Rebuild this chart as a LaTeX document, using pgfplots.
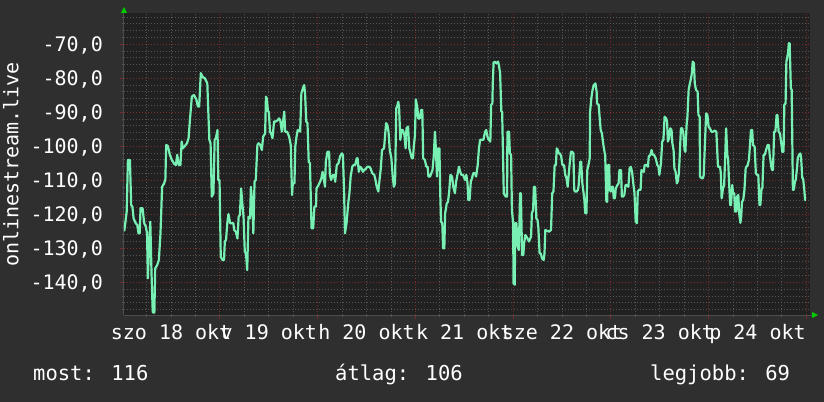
\documentclass[border=0pt]{standalone}
\usepackage{fontspec}
\setmainfont{DejaVu Sans Mono}
\usepackage{pgfplots}
\pgfplotsset{compat=1.18}
\usepackage{pgfplotstable}
\usetikzlibrary{arrows.meta}

\definecolor{canvas}{HTML}{2F2F2F}
\definecolor{plotbg}{HTML}{212121}
\definecolor{majorgrid}{HTML}{7A2C2C}
\definecolor{minorgrid}{HTML}{555555}
\definecolor{linecol}{HTML}{78F0B4}
\definecolor{arrowgreen}{HTML}{00CC00}
\definecolor{axiscol}{HTML}{4D4D4D}

\newcommand\axisfont{\fontsize{20bp}{24bp}\selectfont}
\newcommand\legfont{\fontsize{20.5bp}{24bp}\selectfont}

% hours since 18 Oct 00:00, signal level
\pgfplotstableread{
h v
0.5 -125.0
1.1 -119.2
1.4 -104.0
1.9 -104.0
2.2 -117.3
2.5 -117.7
2.8 -121.2
3.3 -122.6
3.7 -123.1
4.0 -125.6
4.3 -125.6
4.5 -118.2
5.0 -118.2
5.4 -122.6
5.8 -123.6
6.1 -125.6
6.3 -138.8
6.6 -129.5
6.9 -122.2
7.2 -137.4
7.5 -148.8
7.9 -148.9
8.1 -135.9
8.6 -134.9
9.0 -133.4
9.4 -125.6
9.8 -111.9
10.3 -110.9
10.6 -109.7
10.8 -99.6
11.2 -99.9
11.7 -102.5
12.2 -104.0
12.8 -105.2
13.2 -105.5
13.5 -102.5
13.9 -105.5
14.3 -105.5
14.6 -98.6
14.9 -100.6
15.4 -99.9
15.9 -99.1
16.3 -97.6
16.6 -92.7
17.1 -85.4
17.6 -84.9
18.2 -86.2
18.6 -88.3
18.9 -88.3
19.3 -78.5
19.8 -79.7
20.3 -80.0
20.9 -81.5
21.1 -88.3
21.4 -98.1
21.7 -99.1
22.0 -114.8
22.4 -113.8
22.7 -98.1
23.0 -97.6
23.4 -95.2
23.6 -109.9
23.9 -109.9
24.2 -132.5
24.6 -133.4
25.0 -133.4
25.2 -128.0
25.5 -127.5
25.8 -122.6
26.1 -119.9
26.5 -122.6
27.3 -122.6
27.5 -124.6
27.9 -125.1
28.3 -127.1
28.6 -120.7
28.9 -120.2
29.2 -112.4
29.5 -116.8
29.8 -120.7
30.1 -131.0
30.4 -131.5
30.7 -136.4
31.0 -120.7
31.4 -121.2
31.6 -111.9
32.0 -117.7
32.2 -125.6
32.5 -110.4
32.8 -109.9
33.2 -99.6
33.5 -99.1
33.9 -99.6
34.3 -101.1
34.6 -97.2
35.1 -96.2
35.3 -85.4
35.5 -85.9
35.8 -89.8
36.0 -89.8
36.3 -95.7
36.7 -96.7
36.9 -97.6
37.3 -92.7
37.7 -92.7
38.2 -92.3
38.5 -91.8
38.8 -92.3
39.2 -95.7
39.5 -92.7
39.8 -89.8
40.0 -95.7
40.5 -95.7
41.0 -97.2
41.4 -99.6
41.7 -114.3
41.9 -110.9
42.3 -110.9
42.5 -100.1
42.8 -97.2
43.1 -95.2
43.4 -95.2
43.7 -95.7
44.0 -84.4
44.5 -82.5
44.7 -82.0
44.9 -84.4
45.2 -92.7
45.5 -93.2
45.8 -104.5
46.1 -105.0
46.5 -124.1
46.9 -124.1
47.2 -117.7
47.6 -117.7
47.7 -112.4
48.2 -111.4
48.6 -110.4
48.9 -109.4
49.2 -107.5
49.5 -109.4
49.8 -111.9
50.0 -104.5
50.4 -101.6
50.8 -101.6
51.0 -108.4
51.3 -109.9
51.7 -108.4
52.0 -108.4
52.3 -110.4
52.7 -105.5
53.1 -105.0
53.5 -103.0
53.9 -102.1
54.2 -102.5
54.5 -113.8
54.7 -125.6
55.1 -122.6
55.5 -116.8
55.8 -113.8
56.1 -108.9
56.5 -106.0
56.8 -105.5
57.2 -105.5
57.6 -103.5
57.8 -103.5
58.1 -107.5
58.4 -106.0
58.8 -106.5
59.1 -107.5
59.4 -107.0
59.9 -106.5
60.2 -106.0
60.7 -106.0
61.0 -106.5
61.4 -107.9
61.9 -108.4
62.2 -109.9
62.5 -111.9
62.9 -113.3
63.1 -110.9
63.5 -106.5
63.8 -101.1
64.3 -100.6
64.5 -97.6
64.8 -93.2
65.1 -93.7
65.4 -95.7
65.7 -101.1
66.1 -103.5
66.4 -108.4
66.7 -111.9
67.0 -110.9
67.3 -88.8
67.5 -88.3
67.8 -86.9
68.0 -88.8
68.3 -98.1
68.6 -95.2
68.9 -95.2
69.3 -96.7
69.6 -100.6
69.8 -94.7
70.2 -94.2
70.5 -100.6
70.9 -102.5
71.1 -103.5
71.4 -103.5
71.6 -100.1
71.9 -96.7
72.1 -86.2
72.5 -88.8
72.7 -91.8
73.1 -91.8
73.4 -89.3
73.7 -89.3
73.9 -103.5
74.3 -104.0
74.7 -106.0
75.0 -106.0
75.2 -108.9
75.6 -108.9
75.9 -107.9
76.2 -107.0
76.5 -103.0
76.8 -95.7
77.0 -100.1
77.3 -108.9
77.5 -100.6
77.9 -100.6
78.1 -113.8
78.3 -122.2
78.6 -122.6
78.8 -130.0
79.1 -130.0
79.3 -119.7
79.7 -116.8
80.0 -116.3
80.3 -113.3
80.6 -108.4
81.0 -108.9
81.3 -111.9
81.7 -113.8
82.0 -110.4
82.4 -107.9
82.7 -106.0
83.0 -107.5
83.3 -108.4
83.7 -108.4
84.2 -109.9
84.5 -108.4
84.8 -110.9
85.0 -115.8
85.3 -115.8
85.6 -110.4
85.9 -109.4
86.2 -107.9
86.6 -107.9
86.9 -108.9
87.3 -105.5
87.6 -100.6
87.9 -98.1
88.7 -98.1
89.1 -95.7
89.4 -95.2
89.7 -97.2
90.0 -98.1
90.4 -98.6
90.6 -87.8
90.9 -87.4
91.0 -81.5
91.2 -75.4
91.5 -75.1
91.9 -75.6
92.3 -75.1
92.5 -76.1
92.8 -78.5
93.1 -89.8
93.3 -89.8
93.7 -113.8
93.9 -114.3
94.2 -114.8
94.5 -114.8
94.6 -95.7
95.0 -95.7
95.2 -102.1
95.5 -102.5
95.7 -118.7
96.0 -122.6
96.1 -140.3
96.4 -140.7
96.5 -122.6
96.8 -122.6
97.1 -129.5
97.4 -130.5
97.7 -113.8
97.9 -113.8
98.2 -132.0
98.5 -132.0
98.7 -128.5
99.0 -126.1
99.3 -126.6
99.9 -128.0
100.2 -127.1
100.4 -126.6
100.6 -119.7
100.9 -118.7
101.1 -111.9
101.4 -111.9
101.7 -121.2
102.0 -121.7
102.2 -124.1
102.5 -131.5
102.8 -131.5
103.1 -133.0
103.5 -133.4
103.7 -131.5
103.9 -124.6
104.8 -125.1
105.3 -124.6
105.6 -113.8
105.9 -113.3
106.2 -105.5
106.5 -105.5
106.7 -100.6
107.0 -101.1
107.2 -102.1
107.5 -102.1
107.8 -103.0
108.1 -105.5
108.5 -105.5
108.8 -108.4
109.1 -109.4
109.4 -111.9
109.6 -108.9
109.9 -105.0
110.2 -101.6
110.5 -101.6
110.8 -102.1
111.0 -112.8
111.2 -113.3
111.6 -113.3
111.9 -112.8
112.1 -111.4
112.5 -104.5
112.7 -104.5
113.0 -110.9
113.2 -112.8
113.5 -115.8
113.7 -119.7
114.0 -119.7
114.2 -107.0
114.5 -105.5
114.8 -103.5
114.9 -89.8
115.2 -85.9
115.5 -83.4
115.8 -82.0
116.2 -81.5
116.5 -83.9
116.6 -87.4
117.0 -87.8
117.2 -90.8
117.5 -95.2
117.8 -96.2
118.1 -99.1
118.5 -102.1
118.6 -102.5
118.9 -116.3
119.1 -116.3
119.3 -105.5
119.6 -105.5
119.7 -112.8
120.0 -113.3
120.2 -111.9
120.5 -111.9
120.7 -115.3
121.0 -115.3
121.2 -112.4
121.6 -111.4
121.9 -110.9
122.1 -107.0
122.5 -107.0
122.7 -114.8
123.0 -114.8
123.3 -114.3
123.6 -111.4
123.9 -111.4
124.3 -111.9
124.6 -106.5
124.9 -106.0
125.2 -107.5
125.6 -111.9
125.8 -113.8
126.1 -122.2
126.4 -122.6
126.6 -113.3
126.9 -112.8
127.3 -112.8
127.5 -107.0
128.1 -107.5
128.3 -105.5
128.8 -105.5
129.1 -106.0
129.3 -103.0
129.7 -102.5
130.0 -101.1
130.3 -102.5
130.6 -102.5
131.0 -103.5
131.4 -105.5
131.7 -106.0
131.9 -108.4
132.3 -105.0
132.6 -98.6
132.9 -98.1
133.2 -91.3
133.6 -91.8
133.8 -92.7
134.0 -98.6
134.3 -97.6
134.6 -94.7
134.9 -95.2
135.1 -99.1
135.4 -101.1
135.6 -106.5
135.9 -107.5
136.2 -110.9
136.4 -110.4
136.7 -107.9
136.9 -103.0
137.2 -94.7
137.5 -94.7
137.8 -96.2
138.1 -101.1
138.3 -101.6
138.6 -93.7
138.8 -91.3
139.1 -83.4
139.4 -81.5
139.6 -80.5
139.9 -78.5
140.1 -75.1
140.4 -75.6
140.6 -81.5
140.9 -83.4
141.3 -83.9
141.5 -90.8
141.8 -91.3
141.9 -108.9
142.3 -109.4
142.6 -109.4
142.8 -108.4
143.1 -99.1
143.4 -90.3
143.7 -90.8
144.0 -94.2
144.3 -94.7
144.7 -95.7
145.1 -95.7
145.5 -95.4
145.9 -95.7
146.3 -106.0
146.8 -106.0
147.0 -107.9
147.2 -115.3
147.6 -111.9
147.8 -111.9
148.1 -102.1
148.3 -94.7
148.6 -102.5
148.8 -104.0
149.0 -109.9
149.3 -117.3
149.5 -117.3
149.8 -111.4
150.0 -113.8
150.3 -113.8
150.5 -119.2
150.8 -119.2
151.0 -114.8
151.3 -114.3
151.5 -119.7
151.8 -122.5
152.0 -120.7
152.2 -116.3
152.5 -115.8
152.8 -112.8
153.1 -106.5
153.3 -106.0
153.6 -105.5
153.9 -104.0
154.1 -100.6
154.4 -95.2
154.7 -95.2
154.9 -99.6
155.3 -100.1
155.6 -107.9
155.9 -108.4
156.2 -108.4
156.5 -117.3
156.7 -117.3
157.0 -112.4
157.2 -112.4
157.5 -102.5
157.8 -102.5
158.1 -101.1
158.5 -99.6
158.8 -99.6
159.0 -102.5
159.4 -106.0
159.6 -107.0
159.8 -107.0
160.1 -95.7
160.4 -95.7
160.7 -90.8
160.9 -90.8
161.2 -95.7
161.5 -96.2
161.8 -98.6
162.1 -101.6
162.4 -101.6
162.6 -87.8
162.9 -87.4
163.1 -75.1
163.5 -72.6
163.7 -69.7
163.9 -69.7
164.2 -82.9
164.4 -83.4
164.7 -112.8
164.9 -112.8
165.2 -110.4
165.4 -109.9
165.7 -106.5
165.9 -103.5
166.2 -102.5
166.5 -102.1
166.7 -103.0
167.0 -109.4
167.2 -109.4
167.5 -112.8
167.7 -115.8
167.9 -115.8
}\rssi

\begin{document}
\begin{tikzpicture}
\fill[canvas] (-124bp,-87bp) rectangle (700bp,315bp);
\useasboundingbox (-124bp,-87bp) rectangle (700bp,315bp);
\begin{axis}[
  at={(0,0)}, anchor=south west,
  scale only axis, width=686bp, height=302bp,
  xmin=0.44, xmax=168.9, ymin=-149.6, ymax=-60.8,
  axis lines=left,
  axis background/.style={fill=plotbg},
  axis line style={draw=axiscol, line width=1bp},
  x axis line style={shorten >=-8bp, -{Triangle[length=6bp,width=6bp,color=arrowgreen]}},
  y axis line style={shorten >=-6bp, -{Triangle[length=6bp,width=6bp,color=arrowgreen]}},
  xtick={24,48,...,168}, xticklabels={},
  minor xtick={6,12,18,30,36,42,54,60,66,78,84,90,102,108,114,126,132,138,150,156,162},
  ytick={-140,-130,...,-70},
  yticklabels={{-140,0},{-130,0},{-120,0},{-110,0},{-100,0},{-90,0},{-80,0},{-70,0}},
  minor ytick={-148,-146,-144,-142,-138,-136,-134,-132,-128,-126,-124,-122,-118,-116,-114,-112,-108,-106,-104,-102,-98,-96,-94,-92,-88,-86,-84,-82,-78,-76,-74,-72,-68,-66,-64,-62},
  grid=both,
  major grid style={draw=majorgrid, line width=0.9bp, dash pattern=on 1bp off 2bp},
  minor grid style={draw=minorgrid, line width=0.9bp, dash pattern=on 1bp off 2bp},
  tick align=outside, major tick length=4bp, minor tick length=2bp,
  major tick style={draw=majorgrid, solid, line width=0.9bp},
  minor tick style={draw=minorgrid, solid, line width=0.9bp},
  yticklabel style={anchor=base east, inner sep=0pt, xshift=-17bp, yshift=-7.3bp, font=\axisfont, text=white},
  extra x ticks={12,36,60,84,108,132,156},
  extra x tick labels={szo 18 okt,v 19 okt,h 20 okt,k 21 okt,sze 22 okt,cs 23 okt,p 24 okt},
  extra x tick style={grid=none, major tick length=0pt,
    xticklabel style={anchor=base, inner sep=0pt, yshift=-24bp, font=\axisfont, text=white}},
]
\addplot[draw=linecol, line width=2.2bp, line join=round, no marks] table[x=h, y=v] {\rssi};
\end{axis}
\node[rotate=90, anchor=base, inner sep=0pt, font=\axisfont, text=white] at (-105.7bp,150.5bp) {onlinestream.live};
\node[anchor=base west, inner sep=0pt, font=\legfont, text=white] at (-91bp,-65.7bp) {most: 116};
\node[anchor=base west, inner sep=0pt, font=\legfont, text=white] at (211bp,-65.7bp) {átlag: 106};
\node[anchor=base west, inner sep=0pt, font=\legfont, text=white] at (526bp,-65.7bp) {legjobb: 69};
\end{tikzpicture}
\end{document}
